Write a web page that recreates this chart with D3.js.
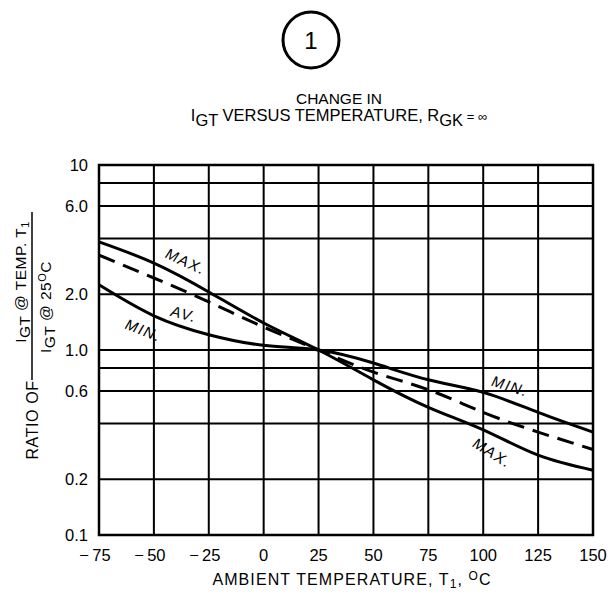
<!DOCTYPE html>
<html>
<head>
<meta charset="utf-8">
<script src="https://cdn.jsdelivr.net/npm/d3@7"></script>
<style>
  body { margin: 0; background: #fff; }
  svg text { font-family: "Liberation Sans", Arial, sans-serif; fill: #000; }
</style>
</head>
<body>
<div id="chart"></div>
<script>
// temperatures (deg C) and IGT ratio readings
var temps = [-75, -50, -25, 0, 25, 50, 75, 100, 125, 150];
var maxVals = [3.84, 2.95, 2.06, 1.40, 1.0, 0.69, 0.49, 0.37, 0.27, 0.224];
var avVals  = [3.26, 2.45, 1.82, 1.33, 1.0, 0.76, 0.61, 0.46, 0.36, 0.29];
var minVals = [2.25, 1.53, 1.21, 1.06, 1.0, 0.85, 0.69, 0.59, 0.46, 0.36];

var xTicks = [-75, -50, -25, 0, 25, 50, 75, 100, 125, 150];
var yGrid = [0.1, 0.2, 0.4, 0.6, 0.8, 1, 2, 4, 6, 8, 10];
var yLabels = [0.1, 0.2, 0.6, 1, 2, 6, 10];
var yLabelText = ["0.1", "0.2", "0.6", "1.0", "2.0", "6.0", "10"];

var svg = d3.select("#chart").append("svg")
  .attr("width", 611)
  .attr("height", 593);

var margin = { top: 165, left: 99 };
var width = 494, height = 370;

var x = d3.scaleLinear().domain([-75, 150]).range([0, width]);
var y = d3.scaleLog().domain([0.1, 10]).range([height, 0]);

// circled figure number
svg.append("circle")
  .attr("cx", 311).attr("cy", 40).attr("r", 28)
  .attr("fill", "none").attr("stroke", "#000").attr("stroke-width", 3);
svg.append("text")
  .attr("x", 311).attr("y", 49)
  .attr("text-anchor", "middle")
  .attr("font-size", 24)
  .text("1");

// title
svg.append("text")
  .attr("x", 339).attr("y", 104)
  .attr("text-anchor", "middle")
  .attr("font-size", 15.5)
  .text("CHANGE IN");
var t2 = svg.append("text")
  .attr("x", 339).attr("y", 121)
  .attr("text-anchor", "middle")
  .attr("font-size", 16.5);
t2.append("tspan").text("I");
t2.append("tspan").attr("dy", 5).text("GT");
t2.append("tspan").attr("dy", -5).text(" VERSUS TEMPERATURE, R");
t2.append("tspan").attr("dy", 5).text("GK");
t2.append("tspan").attr("dy", -5).attr("font-size", 13).text(" = \u221E");

var g = svg.append("g").attr("transform", "translate(" + margin.left + "," + margin.top + ")");

// grid
g.selectAll(".hgrid").data(yGrid).enter().append("line")
  .attr("x1", 0).attr("x2", width)
  .attr("y1", function (d) { return y(d); })
  .attr("y2", function (d) { return y(d); })
  .attr("stroke", "#000").attr("stroke-width", 2);

g.selectAll(".vgrid").data(xTicks).enter().append("line")
  .attr("y1", 0).attr("y2", height)
  .attr("x1", function (d) { return x(d); })
  .attr("x2", function (d) { return x(d); })
  .attr("stroke", "#000").attr("stroke-width", 2);

g.append("rect")
  .attr("width", width).attr("height", height)
  .attr("fill", "none").attr("stroke", "#000").attr("stroke-width", 2.5);

// tick labels
g.selectAll(".ylab").data(yLabels).enter().append("text")
  .attr("x", -11)
  .attr("y", function (d) { return y(d) + 6; })
  .attr("text-anchor", "end")
  .attr("font-size", 16.5)
  .text(function (d, i) { return yLabelText[i]; });

g.selectAll(".xlab").data(xTicks).enter().append("text")
  .attr("x", function (d) { return d < 0 ? x(d) - 4 : x(d); })
  .attr("y", height + 26)
  .attr("text-anchor", "middle")
  .attr("font-size", 16.5)
  .text(function (d) { return d < 0 ? "\u2212\u2009" + Math.abs(d) : d; });

// axis titles
var xt = svg.append("text")
  .attr("x", 352).attr("y", 585)
  .attr("text-anchor", "middle")
  .attr("font-size", 16)
  .attr("letter-spacing", 1.1);
xt.append("tspan").text("AMBIENT TEMPERATURE, T");
xt.append("tspan").attr("dy", 3).attr("font-size", 12).text("1");
xt.append("tspan").attr("dy", -3).text(", ");
xt.append("tspan").attr("dy", -5).attr("font-size", 12).text("O");
xt.append("tspan").attr("dy", 5).text("C");

var yl = svg.append("g");
yl.append("text")
  .attr("transform", "translate(38,420) rotate(-90)")
  .attr("text-anchor", "middle")
  .attr("font-size", 16)
  .attr("letter-spacing", 0.6)
  .text("RATIO OF");
yl.append("line")
  .attr("x1", 32).attr("x2", 32).attr("y1", 212).attr("y2", 380)
  .attr("stroke", "#000").attr("stroke-width", 1.5);
var num = yl.append("text")
  .attr("transform", "translate(26,282) rotate(-90)")
  .attr("text-anchor", "middle")
  .attr("font-size", 15.5)
  .attr("letter-spacing", 0.5);
num.append("tspan").text("I");
num.append("tspan").attr("dy", 4).text("GT");
num.append("tspan").attr("dy", -4).text(" @ TEMP. T");
num.append("tspan").attr("dy", 3).attr("font-size", 11).text("1");
var den = yl.append("text")
  .attr("transform", "translate(51,307) rotate(-90)")
  .attr("text-anchor", "middle")
  .attr("font-size", 15.5)
  .attr("letter-spacing", 0.5);
den.append("tspan").text("I");
den.append("tspan").attr("dy", 4).text("GT");
den.append("tspan").attr("dy", -4).text(" @ 25");
den.append("tspan").attr("dy", -5).attr("font-size", 11).text("O");
den.append("tspan").attr("dy", 5).text("C");

// curves
var line = d3.line()
  .x(function (d, i) { return x(temps[i]); })
  .y(function (d) { return y(d); })
  .curve(d3.curveNatural);

g.append("path").datum(maxVals)
  .attr("fill", "none").attr("stroke", "#000").attr("stroke-width", 3)
  .attr("d", line);
g.append("path").datum(minVals)
  .attr("fill", "none").attr("stroke", "#000").attr("stroke-width", 3)
  .attr("d", line);
g.append("path").datum(avVals)
  .attr("fill", "none").attr("stroke", "#000").attr("stroke-width", 3)
  .attr("stroke-dasharray", "17,9")
  .attr("d", line);

// curve labels
var curveLabels = [
  { text: "MAX.", x: 183, y: 266, a: 25 },
  { text: "AV.", x: 182, y: 319, a: 15 },
  { text: "MIN.", x: 141, y: 335, a: 22 },
  { text: "MIN.", x: 508, y: 391, a: 18 },
  { text: "MAX.", x: 489, y: 457, a: 32 }
];
svg.selectAll(".clab").data(curveLabels).enter().append("text")
  .attr("transform", function (d) { return "translate(" + d.x + "," + d.y + ") rotate(" + d.a + ") skewX(-8)"; })
  .attr("text-anchor", "middle")
  .attr("font-size", 15)
  .attr("letter-spacing", 1.5)
  .text(function (d) { return d.text; });
</script>
</body>
</html>
